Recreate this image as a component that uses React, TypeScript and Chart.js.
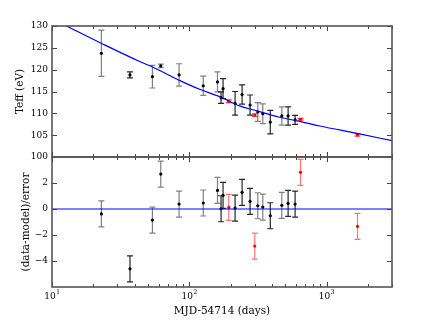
import React, { useEffect, useRef } from 'react';
import { Chart, registerables } from 'chart.js';
Chart.register(...registerables);

// ---- data ----
// model curve (blue line), days since MJD 54714 and Teff (eV)
const modelDays = [10, 12.7, 23, 44, 54, 84, 119, 167, 233, 300, 455, 638, 893, 1672, 3000];
const modelTeff = [131.5, 130.0, 126.0, 121.8, 120.6, 117.6, 115.5, 113.8, 111.7, 110.7, 109.1, 108.15, 107.1, 105.4, 103.75];

// group A (grey error bars)
const daysA = [22.9, 53.9, 62.0, 84.3, 126.5, 160.6, 315.7, 343.4, 472.3];
const teffA = [123.75, 118.4, 120.85, 118.8, 116.3, 117.2, 110.3, 109.9, 109.4];
const errA = [5.3, 2.6, 0.4, 2.55, 2.2, 2.3, 2.15, 2.25, 2.1];
const residA = [-0.38, -0.85, 2.69, 0.38, 0.46, 1.43, 0.25, 0.15, 0.28];

// group B (black error bars)
const daysB = [37.0, 170.5, 176.3, 215.7, 242.6, 277.4, 389.4, 525.1, 590.4];
const teffB = [118.8, 113.6, 115.65, 112.3, 114.3, 111.9, 108.0, 109.4, 108.5];
const errB = [0.7, 1.3, 2.3, 2.7, 2.2, 2.3, 2.7, 2.1, 1.05];
const residB = [-4.6, 0.02, 1.05, 0.07, 1.28, 0.58, -0.52, 0.43, 0.38];

// group R (red points)
const daysR = [194.1, 300.2, 646.4, 1682];
const teffR = [112.77, 109.6, 108.65, 105.05];
const errR = [0.3, 0.3, 0.2, 0.25];
const residR = [0.12, -2.85, 2.82, -1.34];

// zero reference line in the residual panel
const zeroDays = [10, 3000];
const zeroVals = [0, 0];

// axis ticks
const topYTicks = [100, 105, 110, 115, 120, 125, 130];
const botYTicks = [-4, -2, 0, 2];
const xMajorTicks = [10, 100, 1000];
const xMinorTicks = [20, 30, 40, 50, 60, 70, 80, 90, 200, 300, 400, 500, 600, 700, 800, 900, 2000, 3000];
const xTickExp = ['1', '2', '3'];

const FONT = "'DejaVu Serif', serif";

const pts = (xs: number[], ys: number[]) => xs.map((x, i) => ({ x, y: ys[i] }));

const errorBarPlugin = {
  id: 'errbars',
  beforeDatasetsDraw(chart: any) {
    const { ctx } = chart;
    const ys = chart.scales.y;
    chart.data.datasets.forEach((ds: any, i: number) => {
      if (!ds.errs) return;
      const meta = chart.getDatasetMeta(i);
      ctx.save();
      ctx.strokeStyle = ds.errColor;
      ctx.lineWidth = 1.2;
      meta.data.forEach((pt: any, j: number) => {
        const v = ds.data[j].y;
        const e = ds.errs[j];
        const y1 = ys.getPixelForValue(v + e);
        const y2 = ys.getPixelForValue(v - e);
        const x = pt.x;
        ctx.beginPath();
        ctx.moveTo(x, y1);
        ctx.lineTo(x, y2);
        ctx.moveTo(x - 3, y1);
        ctx.lineTo(x + 3, y1);
        ctx.moveTo(x - 3, y2);
        ctx.lineTo(x + 3, y2);
        ctx.stroke();
      });
      ctx.restore();
    });
  },
};

function framePlugin(yTicks: number[], xLabels: boolean) {
  return {
    id: 'frame',
    afterDraw(chart: any) {
      const { ctx, chartArea: a } = chart;
      const xs = chart.scales.x;
      const ys = chart.scales.y;
      ctx.save();
      ctx.strokeStyle = '#444';
      ctx.lineWidth = 1;
      ctx.beginPath();
      const seg = (x1: number, y1: number, x2: number, y2: number) => {
        ctx.moveTo(x1, y1);
        ctx.lineTo(x2, y2);
      };
      xMajorTicks.forEach((v) => {
        const p = Math.round(xs.getPixelForValue(v)) + 0.5;
        seg(p, a.top, p, a.top + 5);
        seg(p, a.bottom, p, a.bottom - 5);
      });
      xMinorTicks.forEach((v) => {
        const p = Math.round(xs.getPixelForValue(v)) + 0.5;
        seg(p, a.top, p, a.top + 3);
        seg(p, a.bottom, p, a.bottom - 3);
      });
      yTicks.forEach((v) => {
        const p = Math.round(ys.getPixelForValue(v)) + 0.5;
        seg(a.left, p, a.left + 5, p);
        seg(a.right, p, a.right - 5, p);
      });
      ctx.stroke();
      ctx.lineWidth = 1.6;
      ctx.strokeStyle = '#555';
      ctx.strokeRect(a.left, a.top, a.right - a.left, a.bottom - a.top);
      if (xLabels) {
        ctx.fillStyle = '#000';
        ctx.textBaseline = 'alphabetic';
        ctx.textAlign = 'left';
        xMajorTicks.forEach((v, i) => {
          const p = xs.getPixelForValue(v);
          ctx.font = `9px ${FONT}`;
          const w1 = ctx.measureText('10').width;
          ctx.font = `6.5px ${FONT}`;
          const w2 = ctx.measureText(xTickExp[i]).width;
          const x0 = p - (w1 + w2) / 2;
          ctx.font = `9px ${FONT}`;
          ctx.fillText('10', x0, a.bottom + 12);
          ctx.font = `6.5px ${FONT}`;
          ctx.fillText(xTickExp[i], x0 + w1 + 0.3, a.bottom + 7);
        });
      }
      ctx.restore();
    },
  };
}

function pointSet(xs: number[], ys: number[], errs: number[], color: string, errColor: string) {
  return {
    data: pts(xs, ys),
    errs,
    errColor,
    showLine: false,
    pointRadius: 1.6,
    pointHoverRadius: 1.6,
    pointBackgroundColor: color,
    pointBorderWidth: 0,
    borderColor: color,
  };
}

const xScale = (show: boolean) => ({
  type: 'logarithmic',
  min: 10,
  max: 3000,
  display: show,
  ticks: { display: false },
  grid: { display: false, drawTicks: false },
  border: { display: false },
  title: {
    display: show,
    text: 'MJD-54714 (days)',
    color: '#000',
    font: { family: FONT, size: 10.5 },
    padding: { top: 0, bottom: 9.5 },
  },
  afterFit(s: any) {
    s.height = show ? 40 : 0;
  },
});

export default function App() {
  const topRef = useRef<HTMLCanvasElement>(null);
  const botRef = useRef<HTMLCanvasElement>(null);

  useEffect(() => {
    const top = new Chart(topRef.current as HTMLCanvasElement, {
      type: 'scatter',
      data: {
        datasets: [
          {
            data: pts(modelDays, modelTeff),
            showLine: true,
            borderColor: '#0000ff',
            borderWidth: 1.2,
            pointRadius: 0,
            cubicInterpolationMode: 'monotone',
          } as any,
          pointSet(daysA, teffA, errA, '#000', 'rgba(0,0,0,0.5)'),
          pointSet(daysB, teffB, errB, '#000', 'rgba(0,0,0,0.85)'),
          pointSet(daysR, teffR, errR, '#ff0000', 'rgba(255,0,0,0.75)'),
        ],
      },
      options: {
        responsive: false,
        animation: false,
        events: [],
        layout: { padding: { top: 26, right: 44, bottom: 170, left: 0 } },
        plugins: { legend: { display: false }, tooltip: { enabled: false } },
        scales: {
          x: xScale(false) as any,
          y: {
            min: 100,
            max: 130,
            afterBuildTicks(s: any) {
              s.ticks = topYTicks.map((v) => ({ value: v }));
            },
            ticks: { color: '#000', font: { family: FONT, size: 9 }, padding: 4 },
            grid: { display: false, drawTicks: false },
            border: { display: false },
            title: {
              display: true,
              text: 'Teff (eV)',
              color: '#000',
              font: { family: FONT, size: 10.5 },
              padding: { top: 14, bottom: 0 },
            },
            afterFit(s: any) {
              s.width = 52;
            },
          },
        },
      },
      plugins: [errorBarPlugin, framePlugin(topYTicks, false)],
    } as any);

    const bot = new Chart(botRef.current as HTMLCanvasElement, {
      type: 'scatter',
      data: {
        datasets: [
          {
            data: pts(zeroDays, zeroVals),
            showLine: true,
            borderColor: '#0000ff',
            borderWidth: 1.2,
            pointRadius: 0,
          } as any,
          pointSet(daysA, residA, residA.map(() => 1), '#000', 'rgba(0,0,0,0.5)'),
          pointSet(daysB, residB, residB.map(() => 1), '#000', 'rgba(0,0,0,0.85)'),
          pointSet(daysR, residR, residR.map(() => 1), '#ff0000', 'rgba(255,0,0,0.55)'),
        ],
      },
      options: {
        responsive: false,
        animation: false,
        events: [],
        layout: { padding: { top: 157, right: 44, bottom: 0, left: 0 } },
        plugins: { legend: { display: false }, tooltip: { enabled: false } },
        scales: {
          x: xScale(true) as any,
          y: {
            min: -6,
            max: 4,
            afterBuildTicks(s: any) {
              s.ticks = botYTicks.map((v) => ({ value: v }));
            },
            ticks: {
              color: '#000',
              font: { family: FONT, size: 9 },
              padding: 4,
              callback: (v: any) => (v < 0 ? '\u2212' + Math.abs(v) : String(v)),
            },
            grid: { display: false, drawTicks: false },
            border: { display: false },
            title: {
              display: true,
              text: '(data-model)/error',
              color: '#000',
              font: { family: FONT, size: 10.5 },
              padding: { top: 20, bottom: 0 },
            },
            afterFit(s: any) {
              s.width = 52;
            },
          },
        },
      },
      plugins: [errorBarPlugin, framePlugin(botYTicks, true)],
    } as any);

    return () => {
      top.destroy();
      bot.destroy();
    };
  }, []);

  const cs: React.CSSProperties = { position: 'absolute', left: 0, top: 0 };
  return (
    <div style={{ position: 'absolute', left: 0, top: 0, width: 436, height: 327, background: '#fff' }}>
      <canvas ref={topRef} width={436} height={327} style={cs} />
      <canvas ref={botRef} width={436} height={327} style={cs} />
    </div>
  );
}
